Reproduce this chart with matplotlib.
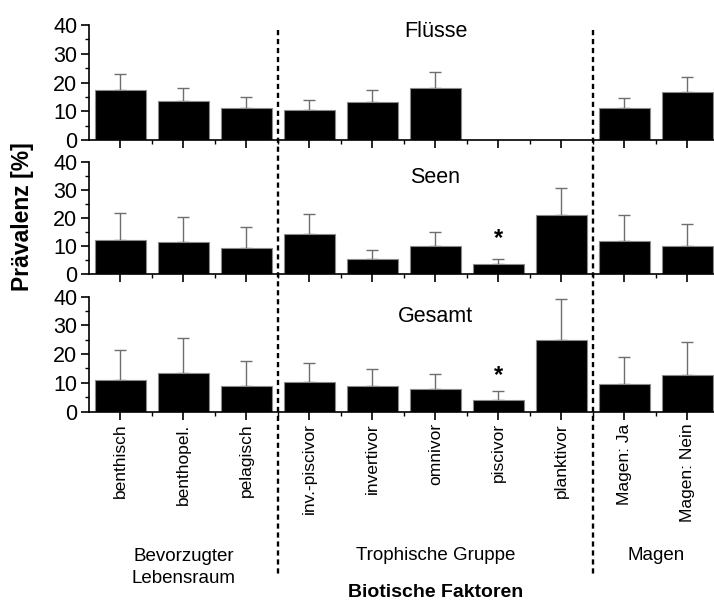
import numpy as np
import matplotlib
matplotlib.use('Agg')
import matplotlib.pyplot as plt
import matplotlib.transforms as mtransforms
from matplotlib.lines import Line2D
from matplotlib.ticker import MultipleLocator, FixedLocator

plt.rcParams['font.family'] = ['Liberation Sans', 'DejaVu Sans']

# Kategorien der biotischen Faktoren
kategorien = ['benthisch', 'benthopel.', 'pelagisch', 'inv.-piscivor', 'invertivor',
              'omnivor', 'piscivor', 'planktivor', 'Magen: Ja', 'Magen: Nein']

# Prävalenz [%] und obere Fehlerbalken je Gewässertyp
fluesse = [17.3, 13.6, 11.0, 10.5, 13.3, 18.2, np.nan, np.nan, 11.0, 16.8]
fluesse_err = [5.5, 4.5, 3.8, 3.3, 4.0, 5.3, np.nan, np.nan, 3.6, 5.1]

seen = [12.1, 11.2, 9.1, 14.3, 5.4, 9.8, 3.6, 20.9, 11.8, 9.8]
seen_err = [9.6, 8.9, 7.5, 7.2, 3.0, 5.2, 1.9, 9.7, 9.2, 7.9]

gesamt = [10.9, 13.4, 8.9, 10.1, 8.8, 7.8, 4.0, 24.9, 9.7, 12.7]
gesamt_err = [10.6, 12.1, 8.8, 6.8, 6.0, 5.4, 3.0, 14.1, 9.4, 11.5]

# signifikante Kategorien (Stern)
panels = [('Flüsse', fluesse, fluesse_err, 37.6, []),
          ('Seen', seen, seen_err, 34.3, [6]),
          ('Gesamt', gesamt, gesamt_err, 32.9, [6])]

gruppen = [('Bevorzugter\nLebensraum', 1.0), ('Trophische Gruppe', 5.0), ('Magen', 8.5)]
trenner = [2.5, 7.5]

fig = plt.figure(figsize=(7.14, 6.02), dpi=100)

# Achsenpositionen (links, unten, Breite, Höhe)
positions = [(0.1246, 0.7674, 0.8824, 0.1910),
             (0.1246, 0.5449, 0.8824, 0.1868),
             (0.1246, 0.3164, 0.8824, 0.1910)]

x = np.arange(len(kategorien))
axes = []
for (titel, werte, fehler, ytitel, sterne), pos in zip(panels, positions):
    ax = fig.add_axes(pos)
    werte = np.array(werte, dtype=float)
    fehler = np.array(fehler, dtype=float)
    ok = ~np.isnan(werte)
    ax.errorbar(x[ok], werte[ok], yerr=[np.zeros(ok.sum()), fehler[ok]],
                fmt='none', ecolor='#6e6e6e', elinewidth=1.0, capsize=4,
                capthick=1.0, zorder=1)
    ax.bar(x[ok], werte[ok], width=0.8, color='black', edgecolor='#8a8a8a',
           linewidth=0.8, zorder=2)
    for i in sterne:
        ax.text(x[i], 12.6, '*', ha='center', va='center',
                fontsize=17, fontweight='bold')
    ax.text(5, ytitel, titel, ha='center', va='center', fontsize=15.5)

    ax.set_xlim(-0.5, 9.5)
    ax.set_ylim(0, 40)
    ax.spines['top'].set_visible(False)
    ax.spines['right'].set_visible(False)
    ax.spines['left'].set_linewidth(1.2)
    ax.spines['bottom'].set_linewidth(1.2)
    ax.yaxis.set_major_locator(MultipleLocator(10))
    ax.yaxis.set_minor_locator(MultipleLocator(5))
    ax.set_xticks(x)
    ax.xaxis.set_minor_locator(FixedLocator(x[:-1] + 0.5))
    ax.tick_params(axis='both', which='major', direction='out', length=6,
                   width=1.2, labelsize=15.5, pad=2.5)
    ax.tick_params(axis='both', which='minor', direction='out', length=3, width=1.0)
    ax.set_xticklabels([])
    axes.append(ax)

ax3 = axes[-1]
ax3.set_xticklabels(kategorien, rotation=90, fontsize=12.5)

# gestrichelte Trennlinien über alle Panels
trans = mtransforms.blended_transform_factory(ax3.transData, fig.transFigure)
for xt in trenner:
    fig.add_artist(Line2D([xt, xt], [0.950, 0.0465], transform=trans,
                          color='black', linestyle=(0, (2.2, 1.6)), linewidth=1.7))

for text, xg in gruppen:
    yg = 0.057 if '\n' in text else 0.078
    fig.text(xg, yg, text, transform=trans, ha='center', va='center',
             fontsize=13.5, linespacing=1.35)

fig.text(5, 0.015, 'Biotische Faktoren', transform=trans, ha='center',
         va='center', fontsize=14, fontweight='bold')
fig.text(0.032, 0.6395, 'Prävalenz [%]', rotation=90, ha='center', va='center',
         fontsize=16.5, fontweight='bold')

fig.savefig('out.png', dpi=100)
